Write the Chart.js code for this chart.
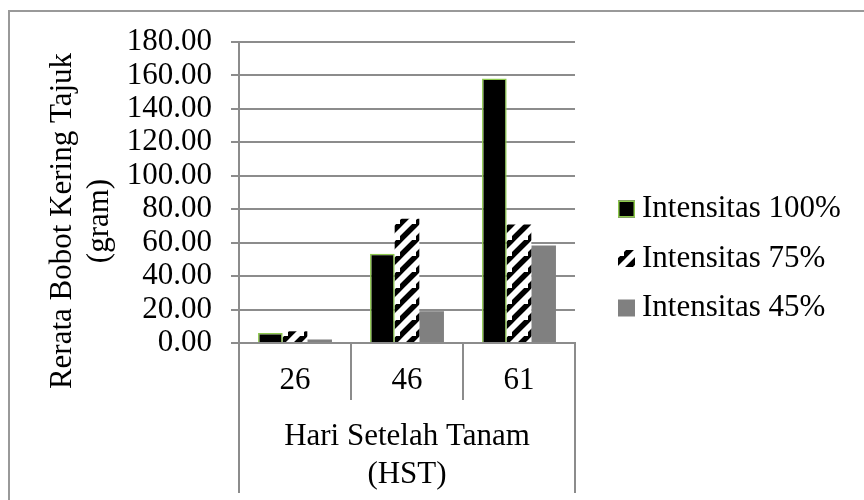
<!DOCTYPE html>
<html>
<head>
<meta charset="utf-8">
<script src="https://cdn.jsdelivr.net/npm/chart.js@4/dist/chart.umd.min.js"></script>
<style>
  html, body { margin: 0; padding: 0; background: #ffffff; }
  canvas { display: block; }
</style>
</head>
<body>
<canvas id="c" width="864" height="500"></canvas>
<script>
// ---- data ----
const categories = ['26', '46', '61'];
const seriesNames = ['Intensitas 100%', 'Intensitas 75%', 'Intensitas 45%'];
const intensitas100 = [6.0, 53.4, 158.1];
const intensitas75 = [7.0, 74.3, 70.9];
const intensitas45 = [2.1, 19.0, 58.3];
const yTickLabels = ['0.00', '20.00', '40.00', '60.00', '80.00', '100.00', '120.00', '140.00', '160.00', '180.00'];
const yTitleLines = ['Rerata Bobot Kering Tajuk', '(gram)'];
const xTitleLines = ['Hari Setelah Tanam', '(HST)'];

// ---- styles ----
const FONT = "'Liberation Serif', 'Times New Roman', serif";
const FS = 31;
const GRID = '#8c8c8c';
const GREEN = '#8cc84b';

function makeStripes() {
  const s = 16;
  const p = document.createElement('canvas');
  p.width = s; p.height = s;
  const g = p.getContext('2d');
  g.fillStyle = '#ffffff';
  g.fillRect(0, 0, s, s);
  g.strokeStyle = '#000000';
  g.lineWidth = 5.5;
  g.beginPath();
  g.moveTo(-4, s + 4); g.lineTo(s + 4, -4);
  g.moveTo(-4 - s, s + 4); g.lineTo(4, -4);
  g.moveTo(s - 4, 2 * s + 4); g.lineTo(2 * s + 4, s - 4);
  g.stroke();
  return g.createPattern(p, 'repeat');
}
const stripes = makeStripes();

const decor = {
  id: 'decor',
  beforeDraw(chart) {
    const ctx = chart.ctx;
    ctx.save();
    ctx.fillStyle = '#ffffff';
    ctx.fillRect(0, 0, chart.width, chart.height);
    ctx.strokeStyle = '#999999';
    ctx.lineWidth = 2;
    ctx.beginPath();
    ctx.moveTo(9, chart.height); ctx.lineTo(9, 11); ctx.lineTo(chart.width, 11);
    ctx.stroke();
    ctx.restore();
  },
  afterDraw(chart) {
    const ctx = chart.ctx;
    const a = chart.chartArea;
    ctx.save();
    // outer category lines extending to bottom
    ctx.strokeStyle = GRID;
    ctx.lineWidth = 2;
    ctx.beginPath();
    ctx.moveTo(a.left, a.bottom); ctx.lineTo(a.left, 493);
    ctx.moveTo(a.right, a.bottom); ctx.lineTo(a.right, 493);
    ctx.stroke();
    // y title
    ctx.fillStyle = '#000000';
    ctx.font = FS + 'px ' + FONT;
    ctx.textAlign = 'center';
    ctx.textBaseline = 'middle';
    const cy = 221;
    const xs = [63, 100];
    yTitleLines.forEach((t, i) => {
      ctx.save();
      ctx.translate(xs[i], cy);
      ctx.rotate(-Math.PI / 2);
      ctx.fillText(t, 0, 0);
      ctx.restore();
    });
    // legend
    const lx = 618, box = 17, tx = 642;
    const ly = [209, 258.5, 308];
    ctx.textAlign = 'left';
    chart.data.datasets.forEach((ds, i) => {
      const y = ly[i];
      ctx.fillStyle = ds.backgroundColor;
      ctx.fillRect(lx, y - box / 2, box, box);
      if (ds.borderWidth) {
        ctx.strokeStyle = ds.borderColor;
        ctx.lineWidth = 1.5;
        ctx.strokeRect(lx + 0.75, y - box / 2 + 0.75, box - 1.5, box - 1.5);
      }
      ctx.fillStyle = '#000000';
      ctx.fillText(ds.label, tx, y);
    });
    ctx.restore();
  }
};

new Chart(document.getElementById('c'), {
  type: 'bar',
  data: {
    labels: categories,
    datasets: [
      { label: seriesNames[0], data: intensitas100, backgroundColor: '#000000', borderColor: GREEN, borderWidth: 1.5 },
      { label: seriesNames[1], data: intensitas75, backgroundColor: stripes, borderWidth: 0 },
      { label: seriesNames[2], data: intensitas45, backgroundColor: '#808080', borderWidth: 0 }
    ]
  },
  options: {
    responsive: false,
    animation: false,
    devicePixelRatio: 1,
    layout: { padding: { left: 0, top: 42, right: 289, bottom: 0 } },
    datasets: { bar: { categoryPercentage: 0.66, barPercentage: 1.0 } },
    plugins: { legend: { display: false }, tooltip: { enabled: false } },
    scales: {
      x: {
        afterFit(s) { s.height = 157; },
        grid: { offset: true, drawOnChartArea: false, drawTicks: true, tickLength: 57, color: GRID, lineWidth: 2 },
        border: { display: true, color: GRID, width: 2 },
        ticks: { color: '#000000', padding: -38, font: { family: FONT, size: FS } },
        title: { display: true, text: xTitleLines, color: '#000000', font: { family: FONT, size: FS }, padding: { top: 0, bottom: 7 } }
      },
      y: {
        min: 0, max: 180,
        afterFit(s) { s.width = 239; },
        grid: { color: GRID, lineWidth: 2, tickLength: 8, drawTicks: true },
        border: { display: true, color: GRID, width: 2 },
        ticks: {
          stepSize: 20, autoSkip: false, color: '#000000', padding: 19,
          font: { family: FONT, size: FS },
          callback: (v, i) => yTickLabels[i]
        }
      }
    }
  },
  plugins: [decor]
});
</script>
</body>
</html>
